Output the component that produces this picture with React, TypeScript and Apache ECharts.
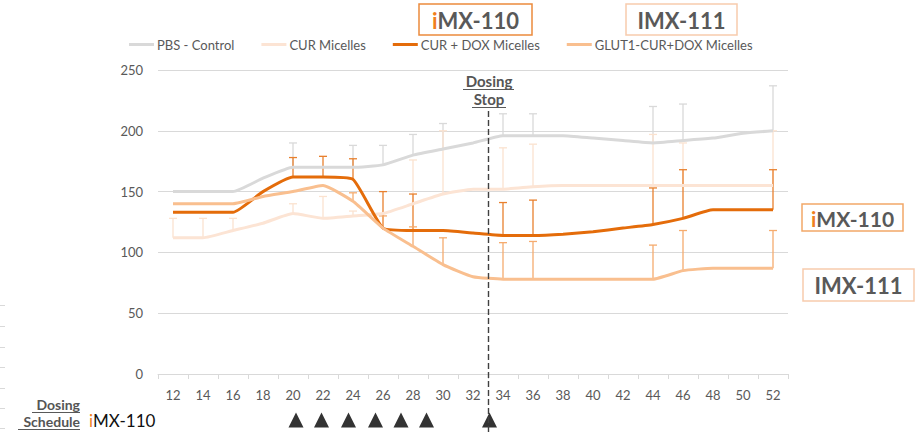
import React, { useEffect, useRef } from "react";
import * as echarts from "echarts";

const days = ["12","14","16","18","20","22","24","26","28","30","32","34","36","38","40","42","44","46","48","50","52"];
const yTicks = { min: 0, max: 250, interval: 50 };

const seriesNames = ["PBS - Control", "CUR Micelles", "CUR + DOX Micelles", "GLUT1-CUR+DOX Micelles"];
const seriesColors = ["#d9d9d9", "#fce4d4", "#e46c0a", "#f9bf8f"];
const errColors = ["#d9d9d9", "#fbe2cf", "#e8802e", "#f5ab6e"];

const pbs = [150,150,150,161,170,170,170,172,180,185,190,196,196,196,194,192,190,192,194,198,200];
const cur = [112,112,118,124,132,128,130,132,140,148,152,152,154,155,155,155,155,155,155,155,155];
const curDox = [133,133,133,150,162,162,160,120,118,118,116,114,114,115,117,120,123,128,135,135,135];
const glut = [140,140,140,146,150,155,142,120,105,90,80,78,78,78,78,78,78,85,87,87,87];

const pbsErr = [null,null,null,null,190,null,188,188,197,206,null,214,214,null,null,null,220,222,null,null,237];
const curErr = [128,128,128,null,140,146,134,null,176,200,null,186,189,null,null,null,197,190,null,null,200];
const curDoxErr = [null,null,null,null,178,179,177,150,148,null,null,141,143,null,null,null,153,168,null,null,168];
const glutErr = [null,null,null,null,null,null,149,130,121,112,null,108,109,null,null,null,106,118,null,null,118];

const dosingStopDay = 33;
const dosingDays = [20.2, 21.9, 23.7, 25.5, 27.2, 28.9, 33.1];
const dayRange = { min: 11, max: 53 };

const FONT = "Lato, 'Liberation Sans', Arial, sans-serif";
const GREY = "#595959";

export default function App() {
  const ref = useRef<HTMLDivElement>(null);
  useEffect(() => {
    if (!ref.current) return;
    const chart = echarts.init(ref.current, undefined, { renderer: "svg" });
    const values = [pbs, cur, curDox, glut];
    const errs = [pbsErr, curErr, curDoxErr, glutErr];

    const lineSeries = values.map((v, i) => ({
      name: seriesNames[i],
      type: "line",
      data: v,
      symbol: "none",
      smooth: 0.15,
      xAxisIndex: 0,
      yAxisIndex: 0,
      z: 3,
      color: seriesColors[i],
      lineStyle: { width: 3, color: seriesColors[i] },
    }));

    const errSeries = errs.map((e, i) => ({
      name: seriesNames[i] + " err",
      type: "custom",
      xAxisIndex: 0,
      yAxisIndex: 0,
      z: 2,
      data: e
        .map((t, k) => (t == null ? null : [k, values[i][k], t]))
        .filter((d) => d !== null),
      encode: { x: 0, y: [1, 2] },
      renderItem: (params: any, api: any) => {
        const x = api.value(0);
        const p0 = api.coord([x, api.value(1)]);
        const p1 = api.coord([x, api.value(2)]);
        const st = { stroke: errColors[i], lineWidth: 1.3 };
        return {
          type: "group",
          children: [
            { type: "line", shape: { x1: p0[0], y1: p0[1], x2: p1[0], y2: p1[1] }, style: st },
            { type: "line", shape: { x1: p1[0] - 4, y1: p1[1], x2: p1[0] + 4, y2: p1[1] }, style: st },
          ],
        };
      },
    }));

    const richI = (size: number, weight: string, main: string) => ({
      o: { fill: "#f07f1e", fontSize: size, fontWeight: weight, fontFamily: FONT },
      g: { fill: main, fontSize: size, fontWeight: weight, fontFamily: FONT },
    });

    const box = (x: number, y: number, w: number, h: number, stroke: string) => ({
      type: "rect",
      shape: { x, y, width: w, height: h },
      style: { fill: "#fff", stroke, lineWidth: 1.5 },
      z: 10,
    });
    const boxText = (cx: number, cy: number, txt: string, size: number) => ({
      type: "text",
      x: cx,
      y: cy,
      z: 11,
      style: {
        text: txt,
        align: "center",
        verticalAlign: "middle",
        rich: richI(size, "bold", GREY),
      },
    });
    const tline = (x1: number, y1: number, x2: number, y2: number, stroke: string, w = 1) => ({
      type: "line",
      shape: { x1, y1, x2, y2 },
      style: { stroke, lineWidth: w },
      z: 10,
    });
    const label2 = (x: number, y: number, l1: string, l2: string, align: string, size: number, lh: number) => ({
      type: "text",
      x,
      y,
      z: 11,
      style: {
        text: "{b|" + l1 + "}\n{b|" + l2 + "}",
        align,
        verticalAlign: "middle",
        rich: { b: { fill: "#555555", fontSize: size, lineHeight: lh, fontWeight: "bold", fontFamily: FONT, align } },
      },
    });

    const leftMarks = [305, 326, 347, 367, 388, 408, 428];

    chart.setOption({
      animation: false,
      textStyle: { fontFamily: FONT },
      legend: {
        data: seriesNames,
        left: 124,
        top: 33,
        itemWidth: 25,
        itemHeight: 3,
        itemGap: 27,
        icon: "rect",
        textStyle: { color: GREY, fontSize: 13, fontFamily: FONT, padding: [0, 0, 0, -2] },
      },
      grid: [
        { left: 158, right: 132, top: 70, height: 304 },
        { left: 158, right: 132, top: 110, bottom: 0 },
        { left: 158, right: 132, top: 412, height: 16 },
      ],
      xAxis: [
        {
          type: "category",
          gridIndex: 0,
          data: days,
          boundaryGap: true,
          axisLine: { lineStyle: { color: "#d9d9d9", width: 1 } },
          axisTick: { show: true, length: 5, lineStyle: { color: "#d9d9d9" } },
          axisLabel: { color: GREY, fontSize: 13, margin: 14, fontFamily: FONT },
          splitLine: { show: false },
        },
        { type: "value", gridIndex: 1, min: dayRange.min, max: dayRange.max, show: false },
        { type: "value", gridIndex: 2, min: dayRange.min, max: dayRange.max, show: false },
      ],
      yAxis: [
        {
          type: "value",
          gridIndex: 0,
          min: yTicks.min,
          max: yTicks.max,
          interval: yTicks.interval,
          axisLine: { show: false },
          axisTick: { show: false },
          axisLabel: { color: GREY, fontSize: 13, margin: 15, fontFamily: FONT },
          splitLine: { lineStyle: { color: "#d9d9d9", width: 1 } },
        },
        { type: "value", gridIndex: 1, min: 0, max: 1, show: false },
        { type: "value", gridIndex: 2, min: 0, max: 1, show: false },
      ],
      series: [
        ...errSeries,
        ...lineSeries,
        {
          name: "stop",
          type: "scatter",
          xAxisIndex: 1,
          yAxisIndex: 1,
          data: [[dosingStopDay, 0.5]],
          symbolSize: 0,
          silent: true,
          markLine: {
            symbol: ["none", "none"],
            silent: true,
            label: { show: false },
            lineStyle: { color: "#404040", type: [6, 3], width: 1.4 },
            data: [{ xAxis: dosingStopDay }],
          },
        },
        {
          name: "dosing",
          type: "scatter",
          xAxisIndex: 2,
          yAxisIndex: 2,
          symbol: "triangle",
          symbolSize: [15, 15],
          itemStyle: { color: "#000" },
          data: dosingDays.map((d) => [d, 0.5]),
        },
      ],
      graphic: [
        box(419, 4, 113, 31, "#ec8a3c"),
        boxText(475.5, 20, "{o|i}{g|MX-110}", 22),
        box(626, 4, 111, 31, "#f8cbad"),
        boxText(681.5, 20, "{g|IMX-111}", 22),
        box(802, 204, 101, 27, "#f2a868"),
        boxText(852.5, 218, "{o|i}{g|MX-110}", 21),
        box(803, 269, 111, 32, "#f8cbad"),
        boxText(858.5, 285.5, "{g|IMX-111}", 22),
        label2(489, 90, "Dosing", "Stop", "center", 15, 18),
        tline(463, 89.5, 514, 89.5, GREY, 1.2),
        tline(472, 107.5, 506, 107.5, GREY, 1.2),
        label2(80, 413, "Dosing", "Schedule", "right", 14, 17),
        tline(32, 412.5, 80, 412.5, GREY, 1.2),
        tline(18, 429.5, 80, 429.5, GREY, 1.2),
        {
          type: "text",
          x: 89,
          y: 420,
          z: 11,
          style: {
            text: "{o|i}{g|MX-110}",
            align: "left",
            verticalAlign: "middle",
            rich: richI(17, "normal", "#111"),
          },
        },
        ...leftMarks.map((y) => tline(0, y + 0.5, 5, y + 0.5, "#d9d9d9", 1)),
      ],
    });
    return () => chart.dispose();
  }, []);
  return (
    <div
      ref={ref}
      style={{ position: "fixed", left: 0, top: 0, width: 920, height: 432, background: "#fff" }}
    />
  );
}
